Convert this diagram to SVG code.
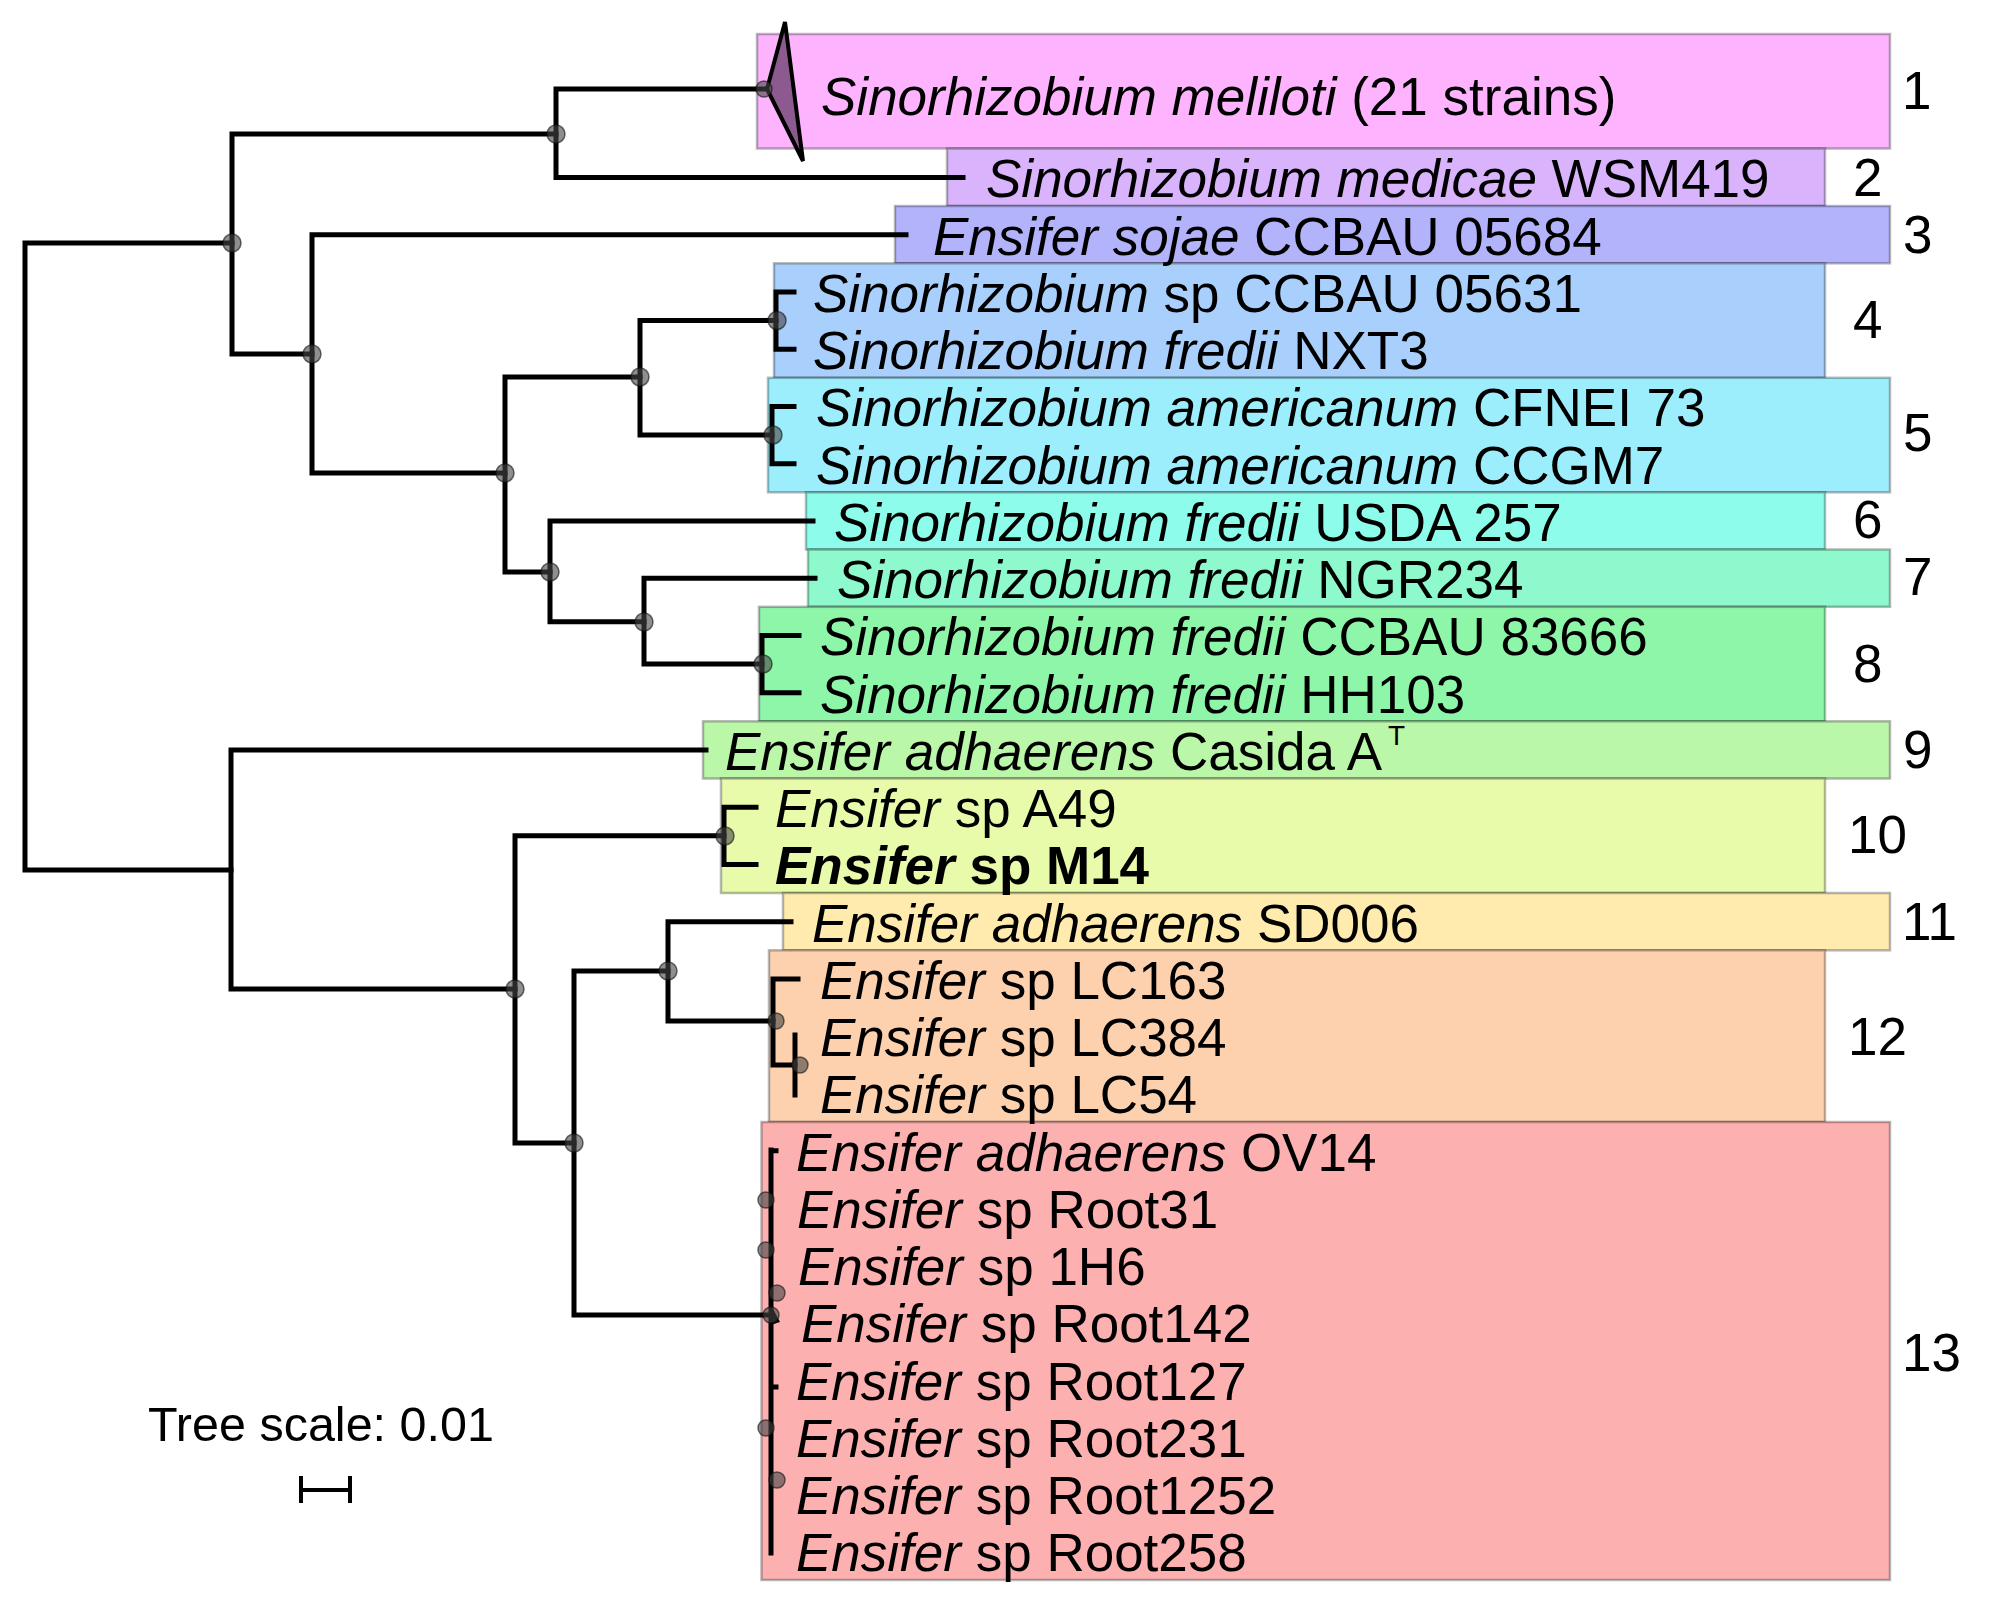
<svg xmlns="http://www.w3.org/2000/svg" width="1990" height="1619" viewBox="0 0 1990 1619">
<style>
.bx{stroke:#000;stroke-opacity:0.28;stroke-width:2.5}
.t{font-family:"Liberation Sans",Arial,sans-serif;font-size:53px;fill:#000}
.i{font-style:italic}
.b{font-weight:bold}
.n{font-family:"Liberation Sans",Arial,sans-serif;font-size:53px;fill:#000}
.br{fill:none;stroke:#000;stroke-width:5;stroke-linecap:square;stroke-linejoin:miter}
.dot{fill:#444;fill-opacity:0.6;stroke:#111;stroke-opacity:0.6;stroke-width:1.5}
</style>
<rect width="1990" height="1619" fill="#fff"/>

<g id="clade-boxes">
<rect id="box1" class="bx" x="757" y="34" width="1133" height="114.5" fill="#FDB3FD"/>
<rect id="box2" class="bx" x="947" y="148.5" width="878" height="57.5" fill="#D9B3FB"/>
<rect id="box3" class="bx" x="895" y="206" width="995" height="57.3" fill="#B3B3FB"/>
<rect id="box4" class="bx" x="774" y="263.3" width="1051" height="114.5" fill="#A9CFFC"/>
<rect id="box5" class="bx" x="768" y="377.8" width="1122" height="114.5" fill="#9DEEFD"/>
<rect id="box6" class="bx" x="806" y="492.3" width="1019" height="57.2" fill="#8EFCEA"/>
<rect id="box7" class="bx" x="808" y="549.5" width="1082" height="57.3" fill="#8EF9CC"/>
<rect id="box8" class="bx" x="759" y="606.8" width="1066" height="114.5" fill="#8EF6A8"/>
<rect id="box9" class="bx" x="703" y="721.3" width="1187" height="57.2" fill="#BBF7A9"/>
<rect id="box10" class="bx" x="721" y="778.5" width="1104" height="114.5" fill="#E7FBAB"/>
<rect id="box11" class="bx" x="783" y="893" width="1107" height="57.3" fill="#FEEBAD"/>
<rect id="box12" class="bx" x="769" y="950.3" width="1056" height="171.7" fill="#FDD1AE"/>
<rect id="box13" class="bx" x="761.5" y="1122" width="1128.5" height="458" fill="#FDB0B0"/>
</g>

<g id="connectors">
<path class="br" d="M25,243H232 M25,243V870 M25,870H231"/>
<path class="br" d="M232,134V354 M232,134H556 M232,354H312"/>
<path class="br" d="M556,89V177.4 M556,89H767 M556,177.4H963"/>
<path class="br" d="M312,234.7V473 M312,234.7H906 M312,473H505"/>
<path class="br" d="M505,377V572 M505,377H640 M505,572H550"/>
<path class="br" d="M640,320.5V435 M640,320.5H776 M640,435H772"/>
<path class="br" d="M776,291.9V349.2 M776,291.9H794 M776,349.2H794"/>
<path class="br" d="M772,406.4V463.7 M772,406.4H794 M772,463.7H794"/>
<path class="br" d="M550,520.9V621.7 M550,520.9H813 M550,621.7H644"/>
<path class="br" d="M644,578.2V664 M644,578.2H815 M644,664H762"/>
<path class="br" d="M762,635.4V692.7 M762,635.4H799 M762,692.7H799"/>
<path class="br" d="M231,749.9V989 M231,749.9H706 M231,989H515"/>
<path class="br" d="M515,835.8V1143 M515,835.8H724 M515,1143H574"/>
<path class="br" d="M724,807.2V864.4 M724,807.2H756 M724,864.4H756"/>
<path class="br" d="M574,971V1315 M574,971H668 M574,1315H770"/>
<path class="br" d="M668,921.7V1021 M668,921.7H791 M668,1021H773"/>
<path class="br" d="M773,978.9V1065 M773,978.9H798 M773,1065H795"/>
<path class="br" d="M795,1035V1095"/>
<path class="br" d="M771,1150V1553 M771,1150.7H776 M771,1387H776"/>
<path d="M771,1305L780,1322L771,1325Z" fill="#000"/>
<polygon id="collapsed-clade" points="767,89 785,22 803,161" fill="#8C5A8E" stroke="#000" stroke-width="4" stroke-linejoin="miter"/>
</g>

<g id="node-dots">
<circle class="dot" cx="764" cy="89" r="8"/>
<circle class="dot" cx="232" cy="243" r="9"/>
<circle class="dot" cx="556" cy="134" r="9"/>
<circle class="dot" cx="312" cy="354" r="9"/>
<circle class="dot" cx="505" cy="473" r="9"/>
<circle class="dot" cx="640" cy="377" r="9"/>
<circle class="dot" cx="777" cy="320.5" r="9"/>
<circle class="dot" cx="773" cy="435" r="9"/>
<circle class="dot" cx="550" cy="572" r="9"/>
<circle class="dot" cx="644" cy="622" r="9"/>
<circle class="dot" cx="763" cy="664" r="9"/>
<circle class="dot" cx="515" cy="989" r="9"/>
<circle class="dot" cx="725" cy="836" r="9"/>
<circle class="dot" cx="574" cy="1143" r="9"/>
<circle class="dot" cx="668" cy="971" r="9"/>
<circle class="dot" cx="776" cy="1021" r="8"/>
<circle class="dot" cx="800" cy="1065" r="8"/>
<circle class="dot" cx="771" cy="1315" r="8"/>
<circle class="dot" cx="766" cy="1200" r="8"/>
<circle class="dot" cx="766" cy="1250" r="8"/>
<circle class="dot" cx="777" cy="1293" r="8"/>
<circle class="dot" cx="766" cy="1428" r="8"/>
<circle class="dot" cx="777" cy="1480" r="8"/>
</g>

<g id="leaf-labels">
<text id="lab1" class="t" x="821" y="115"><tspan class="i">Sinorhizobium meliloti</tspan> (21 strains)</text>
<text id="lab2" class="t" x="986" y="197.4"><tspan class="i">Sinorhizobium medicae</tspan> WSM419</text>
<text id="lab3" class="t" x="933" y="254.7"><tspan class="i">Ensifer sojae</tspan> CCBAU 05684</text>
<text id="lab4" class="t" x="813" y="311.9"><tspan class="i">Sinorhizobium</tspan> sp CCBAU 05631</text>
<text id="lab5" class="t" x="813" y="369.2"><tspan class="i">Sinorhizobium fredii</tspan> NXT3</text>
<text id="lab6" class="t" x="816" y="426.4"><tspan class="i">Sinorhizobium americanum</tspan> CFNEI 73</text>
<text id="lab7" class="t" x="816" y="483.7"><tspan class="i">Sinorhizobium americanum</tspan> CCGM7</text>
<text id="lab8" class="t" x="834" y="540.9"><tspan class="i">Sinorhizobium fredii</tspan> USDA 257</text>
<text id="lab9" class="t" x="837" y="598.2"><tspan class="i">Sinorhizobium fredii</tspan> NGR234</text>
<text id="lab10" class="t" x="820" y="655.4"><tspan class="i">Sinorhizobium fredii</tspan> CCBAU 83666</text>
<text id="lab11" class="t" x="820" y="712.7"><tspan class="i">Sinorhizobium fredii</tspan> HH103</text>
<text id="lab12" class="t" x="725" y="770"><tspan class="i">Ensifer adhaerens</tspan> Casida A</text>
<text id="lab12sup" class="t" x="1388" y="745" style="font-size:28px">T</text>
<text id="lab13" class="t" x="775" y="827.2"><tspan class="i">Ensifer</tspan> sp A49</text>
<text id="lab14" class="t b" x="775" y="884.4"><tspan class="i">Ensifer</tspan> sp M14</text>
<text id="lab15" class="t" x="812" y="941.7"><tspan class="i">Ensifer adhaerens</tspan> SD006</text>
<text id="lab16" class="t" x="820" y="998.9"><tspan class="i">Ensifer</tspan> sp LC163</text>
<text id="lab17" class="t" x="820" y="1056.2"><tspan class="i">Ensifer</tspan> sp LC384</text>
<text id="lab18" class="t" x="820" y="1113.4"><tspan class="i">Ensifer</tspan> sp LC54</text>
<text id="lab19" class="t" x="796" y="1170.7"><tspan class="i">Ensifer adhaerens</tspan> OV14</text>
<text id="lab20" class="t" x="797" y="1227.9"><tspan class="i">Ensifer</tspan> sp Root31</text>
<text id="lab21" class="t" x="798" y="1285.2"><tspan class="i">Ensifer</tspan> sp 1H6</text>
<text id="lab22" class="t" x="801" y="1342.4"><tspan class="i">Ensifer</tspan> sp Root142</text>
<text id="lab23" class="t" x="796" y="1399.7"><tspan class="i">Ensifer</tspan> sp Root127</text>
<text id="lab24" class="t" x="796" y="1456.9"><tspan class="i">Ensifer</tspan> sp Root231</text>
<text id="lab25" class="t" x="796" y="1514.2"><tspan class="i">Ensifer</tspan> sp Root1252</text>
<text id="lab26" class="t" x="796" y="1571.4"><tspan class="i">Ensifer</tspan> sp Root258</text>
</g>

<g id="clade-numbers">
<text class="n" x="1902" y="109">1</text>
<text class="n" x="1853" y="196">2</text>
<text class="n" x="1903" y="253">3</text>
<text class="n" x="1853" y="338">4</text>
<text class="n" x="1903" y="451">5</text>
<text class="n" x="1853" y="538">6</text>
<text class="n" x="1903" y="595">7</text>
<text class="n" x="1853" y="682">8</text>
<text class="n" x="1903" y="768">9</text>
<text class="n" x="1848" y="853">10</text>
<text class="n" x="1902" y="940">11</text>
<text class="n" x="1848" y="1055">12</text>
<text class="n" x="1902" y="1371">13</text>
</g>

<g id="tree-scale">
<text class="t" x="148" y="1441" style="font-size:48.5px">Tree scale: 0.01</text>
<path class="br" d="M301,1490H350 M301,1476V1503 M350,1476V1503" style="stroke-width:4;stroke-linecap:butt"/>
</g>
</svg>
